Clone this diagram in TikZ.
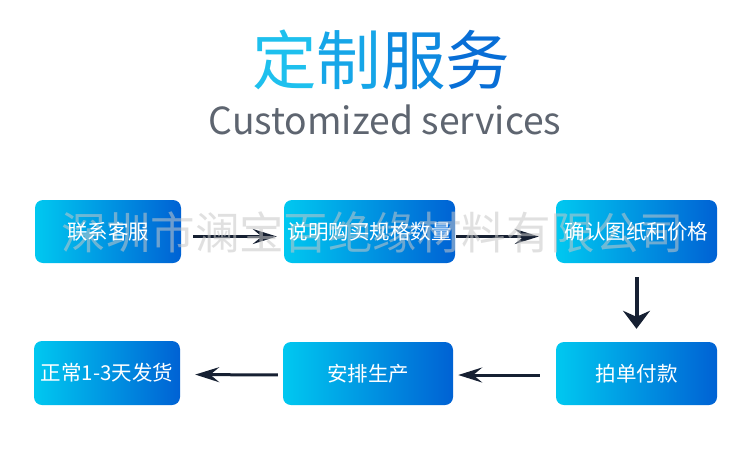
\documentclass[tikz,border=0pt]{standalone}
\usepackage{fontspec}
\setmainfont{Noto Sans CJK SC}
\newfontfamily\cjk{Noto Sans CJK SC}
\usetikzlibrary{arrows.meta}
\definecolor{boxL}{RGB}{0,200,240}
\definecolor{boxR}{RGB}{0,98,212}
\definecolor{arr}{RGB}{22,32,50}
\definecolor{subc}{RGB}{94,101,112}
\definecolor{wmc}{RGB}{200,200,200}
\definecolor{t1}{RGB}{30,192,238}
\definecolor{t2}{RGB}{22,166,232}
\definecolor{t3}{RGB}{14,138,224}
\definecolor{t4}{RGB}{8,110,214}
\begin{document}
\begin{tikzpicture}[x=1pt,y=-1pt,
  stepbox/.style={rectangle, rounded corners=8pt, left color=boxL, right color=boxR,
    draw=none, minimum width=#1, minimum height=63pt, inner sep=0pt},
  steplabel/.style={text=white, inner sep=0pt, font=\cjk\fontsize{20.5}{24}\selectfont},
  harrow/.style={draw=arr, line width=3pt, -{Stealth[length=24pt,width=15pt,inset=9pt]}},
  varrow/.style={draw=arr, line width=4pt, -{Stealth[length=18pt,width=27pt,inset=6pt]}}
]
\useasboundingbox (0,0) rectangle (750,453);
\fill[white] (0,0) rectangle (750,453);

% title
\node[inner sep=0pt, font=\cjk\fontsize{64.5}{70}\selectfont] (title) at (381,60)
  {\textcolor{t1}{定}\textcolor{t2}{制}\textcolor{t3}{服}\textcolor{t4}{务}};
\node[inner sep=0pt, text=subc, font=\cjk\fontsize{37.3}{42}\selectfont] (sub) at (385,120)
  {Customized services};

% boxes
\node[stepbox=146pt] (b1) at (108,231.5) {};
\node[stepbox=171pt] (b2) at (369.5,231.5) {};
\node[stepbox=161pt] (b3) at (636.5,231.5) {};
\node[stepbox=146pt, minimum height=64pt] (b4) at (107,373) {};
\node[stepbox=170pt] (b5) at (368,373.5) {};
\node[stepbox=161pt] (b6) at (636.5,373.5) {};

% connectors
\draw[harrow, shorten <=12pt, shorten >=7pt] ([yshift=-5pt]b1.east) -- ([yshift=-5pt]b2.west);
\draw[harrow, shorten <=1pt, shorten >=17pt] ([yshift=-5pt]b2.east) -- ([yshift=-5pt]b3.west);
\draw[varrow, shorten <=14pt, shorten >=13pt] (b3.south) -- (b6.north);
\draw[harrow, shorten <=16pt, shorten >=5pt] ([yshift=-1.5pt]b6.west) -- ([yshift=-1.5pt]b5.east);
\draw[harrow, shorten <=5pt, shorten >=15pt] ([yshift=-1.5pt]b5.west) -- ([yshift=-1.5pt]b4.east);

% watermark
\node[inner sep=0pt, text=wmc, opacity=0.55, font=\cjk\fontsize{44.5}{48}\selectfont] (wm) at (373,232)
  {深圳市澜宝百绝缘材料有限公司};

% labels
\node[steplabel] (l1) at (b1) {联系客服};
\node[steplabel] (l2) at (b2) {说明购买规格数量};
\node[steplabel] (l3) at (b3) {确认图纸和价格};
\node[steplabel] (l4) at (b4) {正常1-3天发货};
\node[steplabel] (l5) at (b5) {安排生产};
\node[steplabel] (l6) at (b6) {拍单付款};
\end{tikzpicture}
\end{document}
